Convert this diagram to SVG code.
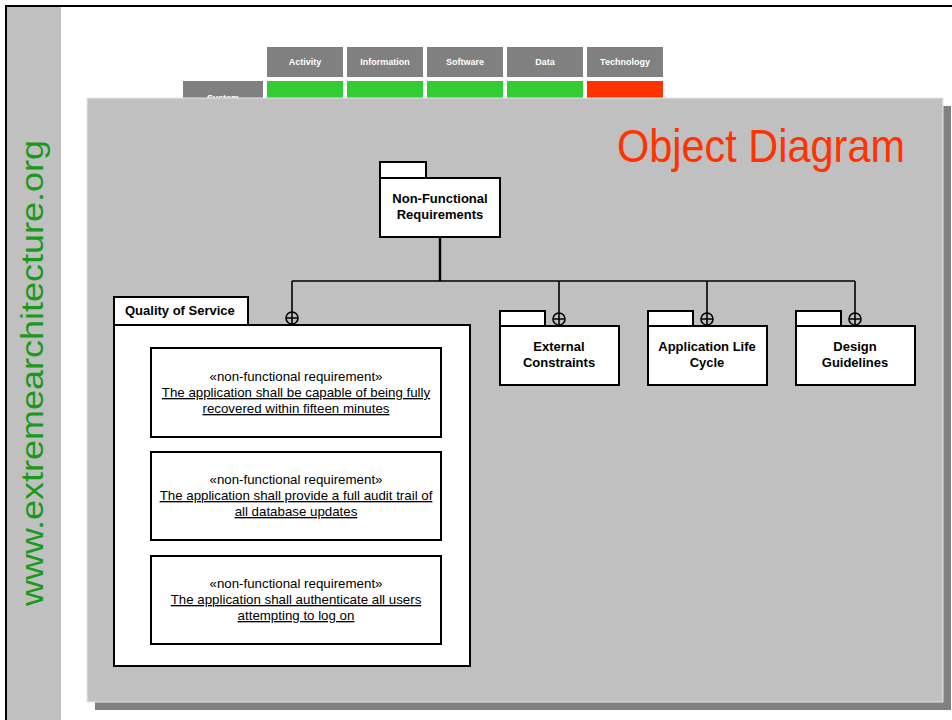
<svg xmlns="http://www.w3.org/2000/svg" width="952" height="720" viewBox="0 0 952 720">
<defs>
<style>
.hdr{fill:#808080}
.hdrt{font-family:"Liberation Sans",Arial,sans-serif;font-size:9px;font-weight:bold;fill:#ffffff;text-anchor:middle}
.box{fill:#ffffff;stroke:#000000;stroke-width:2}
.name{font-family:"Liberation Sans",Arial,sans-serif;font-size:13px;font-weight:bold;fill:#000000;text-anchor:middle}
.req{font-family:"Liberation Sans",Arial,sans-serif;font-size:13.3px;fill:#000000;text-anchor:middle}
.ul{text-decoration:underline}
.con{fill:none;stroke:#000000;stroke-width:1.6}
</style>
</defs>
<rect x="0" y="0" width="952" height="720" fill="#ffffff"/>
<rect x="7" y="7" width="54" height="713" fill="#c0c0c0"/>
<path d="M6,720 V6 H952" fill="none" stroke="#000000" stroke-width="2"/>
<text transform="translate(43,606) rotate(-90)" font-family="'Liberation Sans',Arial,sans-serif" font-size="31" fill="#1a9a1a" textLength="466" lengthAdjust="spacingAndGlyphs">www.extremearchitecture.org</text>

<g id="matrix">
<rect class="hdr" x="267" y="47" width="76" height="30"/>
<rect class="hdr" x="347" y="47" width="76" height="30"/>
<rect class="hdr" x="427" y="47" width="76" height="30"/>
<rect class="hdr" x="507" y="47" width="76" height="30"/>
<rect class="hdr" x="587" y="47" width="76" height="30"/>
<text class="hdrt" x="305" y="65">Activity</text>
<text class="hdrt" x="385" y="65">Information</text>
<text class="hdrt" x="465" y="65">Software</text>
<text class="hdrt" x="545" y="65">Data</text>
<text class="hdrt" x="625" y="65">Technology</text>
<rect class="hdr" x="183" y="81" width="80" height="30"/>
<text class="hdrt" x="223" y="101">System</text>
<rect x="267" y="81" width="76" height="20" fill="#33cc33"/>
<rect x="347" y="81" width="76" height="20" fill="#33cc33"/>
<rect x="427" y="81" width="76" height="20" fill="#33cc33"/>
<rect x="507" y="81" width="76" height="20" fill="#33cc33"/>
<rect x="587" y="81" width="76" height="20" fill="#ff3300"/>
</g>

<rect x="95" y="106" width="856" height="604" fill="#808080"/>
<rect x="87" y="98" width="856" height="604" fill="#c0c0c0" stroke="#e6e6e6" stroke-width="1"/>
<text x="617" y="162" font-family="'Liberation Sans',Arial,sans-serif" font-size="47" fill="#ff3300" textLength="288" lengthAdjust="spacingAndGlyphs">Object Diagram</text>

<g id="connectors">
<path d="M440,237 V281" fill="none" stroke="#000" stroke-width="2.4"/>
<path class="con" d="M292,281 H855"/>
<path class="con" d="M292,281 V312"/>
<path class="con" d="M559,281 V313" stroke-width="2"/>
<path class="con" d="M707,281 V313"/>
<path class="con" d="M855,281 V313"/>
<g fill="none" stroke="#000" stroke-width="1.6">
<circle cx="292" cy="318" r="6"/><path d="M286,318 H298 M292,312 V324"/>
<circle cx="559" cy="319" r="6"/><path d="M553,319 H565 M559,313 V325"/>
<circle cx="707" cy="319" r="6"/><path d="M701,319 H713 M707,313 V325"/>
<circle cx="855" cy="319" r="6"/><path d="M849,319 H861 M855,313 V325"/>
</g>
</g>

<g id="nfr">
<rect class="box" x="380" y="162" width="46" height="16"/>
<rect class="box" x="380" y="178" width="120" height="59"/>
<text class="name" x="440" y="203">Non-Functional</text>
<text class="name" x="440" y="219">Requirements</text>
</g>

<g id="qos">
<rect class="box" x="114" y="297" width="134" height="28"/>
<rect class="box" x="114" y="325" width="356" height="341"/>
<text class="name" x="125" y="315" text-anchor="start" style="text-anchor:start">Quality of Service</text>
</g>

<g id="req1">
<rect class="box" x="151" y="348" width="290" height="89"/>
<text class="req" x="296" y="381">«non-functional requirement»</text>
<text class="req ul" x="296" y="397">The application shall be capable of being fully</text>
<text class="req ul" x="296" y="413">recovered within fifteen minutes</text>
</g>
<g id="req2">
<rect class="box" x="151" y="452" width="290" height="88"/>
<text class="req" x="296" y="484">«non-functional requirement»</text>
<text class="req ul" x="296" y="500">The application shall provide a full audit trail of</text>
<text class="req ul" x="296" y="516">all database updates</text>
</g>
<g id="req3">
<rect class="box" x="151" y="556" width="290" height="88"/>
<text class="req" x="296" y="588">«non-functional requirement»</text>
<text class="req ul" x="296" y="604">The application shall authenticate all users</text>
<text class="req ul" x="296" y="620">attempting to log on</text>
</g>

<g id="ext">
<rect class="box" x="500" y="311" width="45" height="15"/>
<rect class="box" x="500" y="326" width="119" height="59"/>
<text class="name" x="559" y="351">External</text>
<text class="name" x="559" y="367">Constraints</text>
</g>
<g id="alc">
<rect class="box" x="648" y="311" width="45" height="15"/>
<rect class="box" x="648" y="326" width="119" height="59"/>
<text class="name" x="707" y="351">Application Life</text>
<text class="name" x="707" y="367">Cycle</text>
</g>
<g id="dg">
<rect class="box" x="796" y="311" width="45" height="15"/>
<rect class="box" x="796" y="326" width="119" height="59"/>
<text class="name" x="855" y="351">Design</text>
<text class="name" x="855" y="367">Guidelines</text>
</g>
</svg>
